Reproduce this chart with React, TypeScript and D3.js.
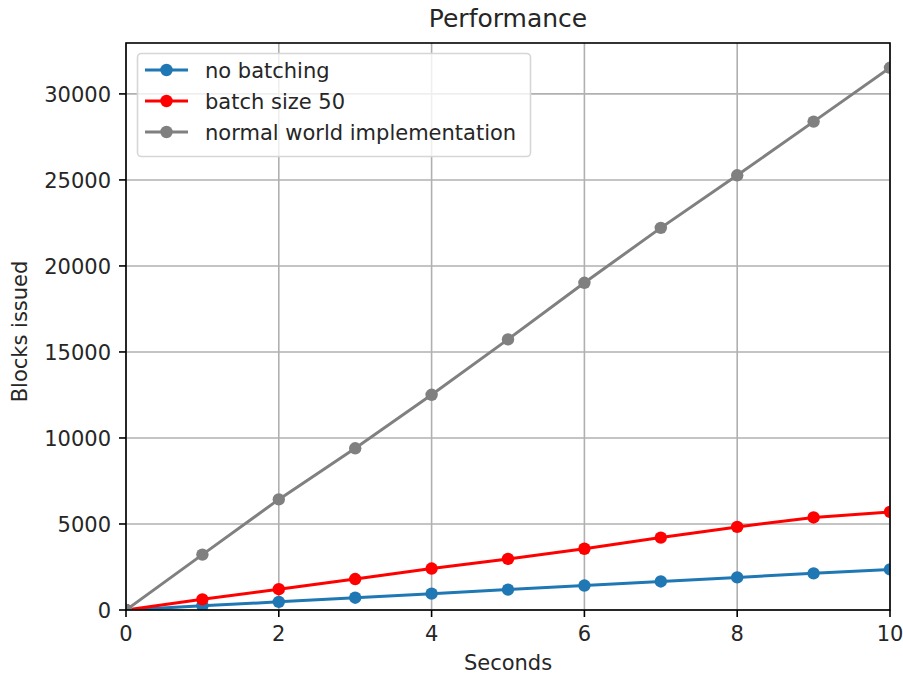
import * as d3 from "d3";

const WIDTH = 903;
const HEIGHT = 675;
const MARGIN = { top: 43, right: 13, bottom: 65, left: 126 };

const seconds = [0, 1, 2, 3, 4, 5, 6, 7, 8, 9, 10];
const noBatching = [0, 240, 475, 715, 950, 1185, 1420, 1660, 1895, 2130, 2360];
const batch50 = [0, 620, 1210, 1800, 2410, 2970, 3560, 4210, 4830, 5380, 5700];
const normalWorld = [0, 3220, 6430, 9400, 12510, 15730, 19020, 22215, 25270, 28390, 31520];

const xTicks = [0, 2, 4, 6, 8, 10];
const yTicks = [0, 5000, 10000, 15000, 20000, 25000, 30000];

const seriesList = [
  { name: "no batching", color: "#1f77b4", values: noBatching },
  { name: "batch size 50", color: "#ff0000", values: batch50 },
  { name: "normal world implementation", color: "#808080", values: normalWorld },
];

const FONT = "DejaVu Sans, sans-serif";
const TEXT = "#262626";

export default function App() {
  const x0 = MARGIN.left;
  const x1 = WIDTH - MARGIN.right;
  const y0 = HEIGHT - MARGIN.bottom;
  const y1 = MARGIN.top;
  const x = d3.scaleLinear().domain([0, 10]).range([x0, x1]);
  const y = d3.scaleLinear().domain([0, 32960]).range([y0, y1]);

  const line = d3
    .line<number>()
    .x((_, i) => x(seconds[i]))
    .y((d) => y(d));

  return (
    <svg width={WIDTH} height={HEIGHT} style={{ position: "absolute", left: 0, top: 0, fontFamily: FONT }}>
      <rect width={WIDTH} height={HEIGHT} fill="#fff" />
      <defs>
        <clipPath id="plot-clip">
          <rect x={x0} y={y1} width={x1 - x0} height={y0 - y1} />
        </clipPath>
      </defs>

      {xTicks.map((t) => (
        <line key={`gx-${t}`} x1={x(t)} x2={x(t)} y1={y0} y2={y1} stroke="#b0b0b0" strokeWidth={1.6} />
      ))}
      {yTicks.map((t) => (
        <line key={`gy-${t}`} x1={x0} x2={x1} y1={y(t)} y2={y(t)} stroke="#b0b0b0" strokeWidth={1.6} />
      ))}

      <g clipPath="url(#plot-clip)">
        {seriesList.map((s) => (
          <g key={s.name}>
            <path d={line(s.values) || ""} fill="none" stroke={s.color} strokeWidth={3} />
            {s.values.map((v, i) => (
              <circle key={i} cx={x(seconds[i])} cy={y(v)} r={6.2} fill={s.color} />
            ))}
          </g>
        ))}
      </g>

      <rect x={x0} y={y1} width={x1 - x0} height={y0 - y1} fill="none" stroke="#000" strokeWidth={1.6} />

      {xTicks.map((t) => (
        <g key={`tx-${t}`}>
          <line x1={x(t)} x2={x(t)} y1={y0} y2={y0 + 7} stroke="#000" strokeWidth={1.6} />
          <text x={x(t)} y={y0 + 31} textAnchor="middle" fontSize={21} fill={TEXT}>
            {t}
          </text>
        </g>
      ))}
      {yTicks.map((t) => (
        <g key={`ty-${t}`}>
          <line x1={x0 - 7} x2={x0} y1={y(t)} y2={y(t)} stroke="#000" strokeWidth={1.6} />
          <text x={x0 - 15} y={y(t) + 8} textAnchor="end" fontSize={21} fill={TEXT}>
            {t}
          </text>
        </g>
      ))}

      <text x={(x0 + x1) / 2} y={27} textAnchor="middle" fontSize={25} fill={TEXT}>
        Performance
      </text>
      <text x={(x0 + x1) / 2} y={670} textAnchor="middle" fontSize={21} fill={TEXT}>
        Seconds
      </text>
      <text
        transform={`translate(27 ${(y0 + y1) / 2 + 5}) rotate(-90)`}
        textAnchor="middle"
        fontSize={21}
        fill={TEXT}
      >
        Blocks issued
      </text>

      <g>
        <rect x={137.5} y={53.5} width={393} height={103} rx={4} fill="#fff" fillOpacity={0.8} stroke="#d6d6d6" strokeWidth={1.6} />
        {seriesList.map((s, i) => {
          const ly = 70 + i * 31;
          return (
            <g key={`lg-${s.name}`}>
              <line x1={145} x2={188} y1={ly} y2={ly} stroke={s.color} strokeWidth={3} />
              <circle cx={166.5} cy={ly} r={6.2} fill={s.color} />
              <text x={205} y={ly + 7.5} fontSize={21} fill={TEXT}>
                {s.name}
              </text>
            </g>
          );
        })}
      </g>
    </svg>
  );
}
